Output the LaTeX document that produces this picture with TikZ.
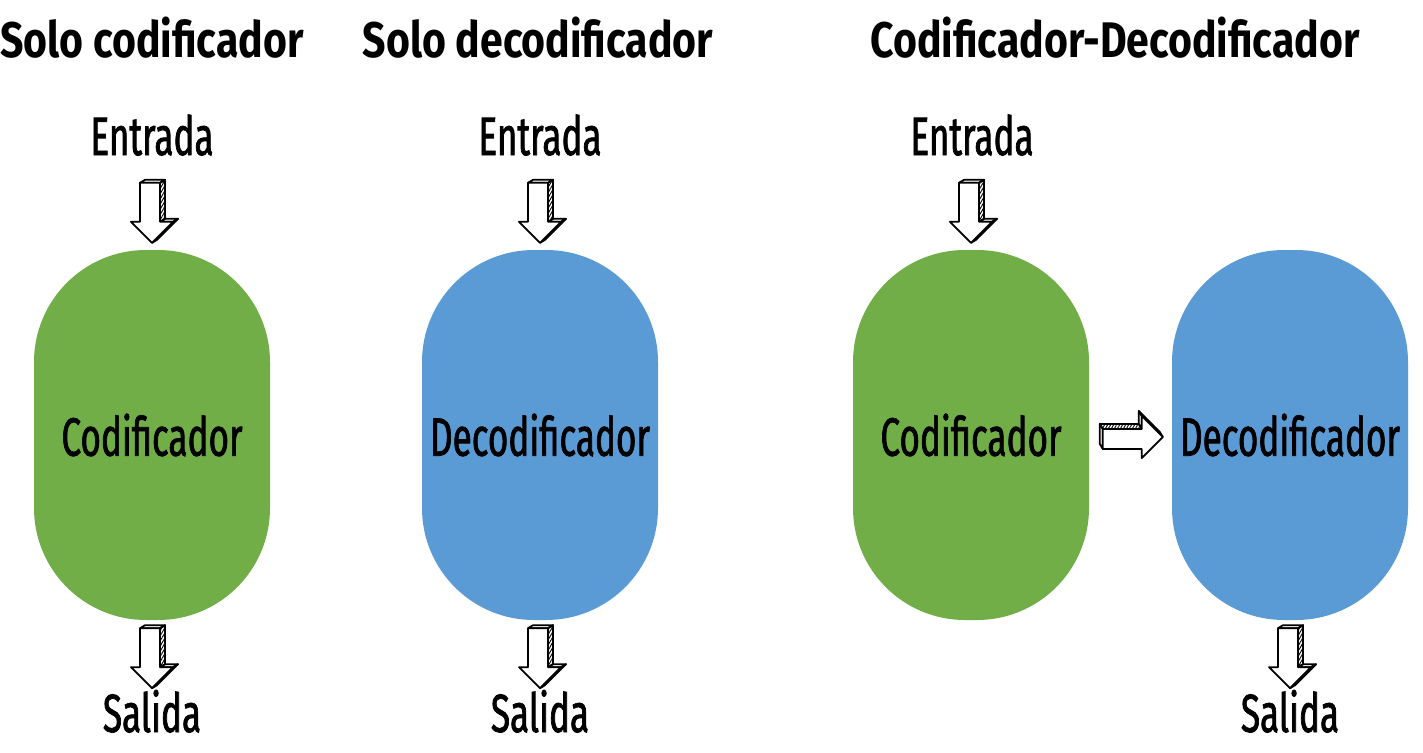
\documentclass[tikz,border=0pt]{standalone}
\usepackage{fontspec}
\setmainfont{Fira Sans}
\newfontfamily\labelfont{Fira Sans}[FakeStretch=0.65, FakeBold=1.3]
\newfontfamily\titlefont{Fira Sans}[FakeStretch=0.82]
\usetikzlibrary{calc,patterns.meta}
\definecolor{encgreen}{HTML}{71AE48}
\definecolor{decblue}{HTML}{5B9BD5}
\tikzset{
  capsule/.style={rectangle, rounded corners=112pt, minimum width=236pt, minimum height=370pt, inner sep=0pt, draw=none},
  enc/.style={capsule, fill=encgreen},
  dec/.style={capsule, fill=decblue},
  lbl/.style={font=\labelfont\fontsize{54}{60}\selectfont, inner sep=0pt},
  ttl/.style={font=\titlefont\bfseries\fontsize{50}{56}\selectfont, inner sep=0pt, anchor=base},
  arrline/.style={draw=black, line width=1.8pt, line join=round},
  hatch/.style={pattern={Lines[angle=60, distance=2.6pt, line width=0.9pt]}},
  pics/blockarrow/.style={code={
    \path[arrline, fill=white] (-12,-60) -- (-7,-63) -- (13,-63) -- (8,-60) -- cycle;
    \path[arrline, fill=white] (8,-21) -- (13,-24) -- (26,-24) -- (21,-21) -- cycle;
    \path[arrline, hatch] (8,-60) -- (13,-63) -- (13,-24) -- (8,-21) -- cycle;
    \path[arrline, hatch] (21,-21) -- (26,-24) -- (5,-3) -- (0,0) -- cycle;
    \path[arrline, fill=white] (-12,-60) -- (8,-60) -- (8,-21) -- (21,-21) -- (0,0) -- (-21,-21) -- (-12,-21) -- cycle;
  }}
}
\begin{document}
\begin{tikzpicture}[x=1pt, y=-1pt]
\useasboundingbox[fill=white] (0,0) rectangle (1423,752);

% titles
\node[ttl] (t1) at (152,57) {Solo codificador};
\node[ttl] (t2) at (538,57) {Solo decodificador};
\node[ttl] (t3) at (1115,57) {Codificador-Decodificador};

% column 1
\node[enc] (enc1) at (152,435) {};
\node[lbl] (enc1l) at (enc1.center) {Codificador};
\node[lbl, anchor=base] (in1) at (152,155) {Entrada};
\node[lbl, anchor=base] (out1) at (152,732) {Salida};

% column 2
\node[dec] (dec1) at (540,435) {};
\node[lbl] (dec1l) at (dec1.center) {Decodificador};
\node[lbl, anchor=base] (in2) at (540,155) {Entrada};
\node[lbl, anchor=base] (out2) at (540,732) {Salida};

% column 3
\node[enc] (enc2) at (971,435) {};
\node[lbl] (enc2l) at (enc2.center) {Codificador};
\node[dec] (dec2) at (1290,435) {};
\node[lbl] (dec2l) at (dec2.center) {Decodificador};
\node[lbl, anchor=base] (in3) at (972,155) {Entrada};
\node[lbl, anchor=base] (out3) at (1290,732) {Salida};

% arrows
\pic at ($(enc1.north)+(0,-7)$) {blockarrow};
\pic at ($(dec1.north)+(0,-7)$) {blockarrow};
\pic at ($(enc2.north)+(0,-7)$) {blockarrow};
\pic at ($(enc1.south)+(0,68)$) {blockarrow};
\pic at ($(dec1.south)+(0,68)$) {blockarrow};
\pic at ($(dec2.south)+(0,68)$) {blockarrow};
\pic[rotate=90] at ($(dec2.west)+(-9,2)$) {blockarrow};
\end{tikzpicture}
\end{document}
